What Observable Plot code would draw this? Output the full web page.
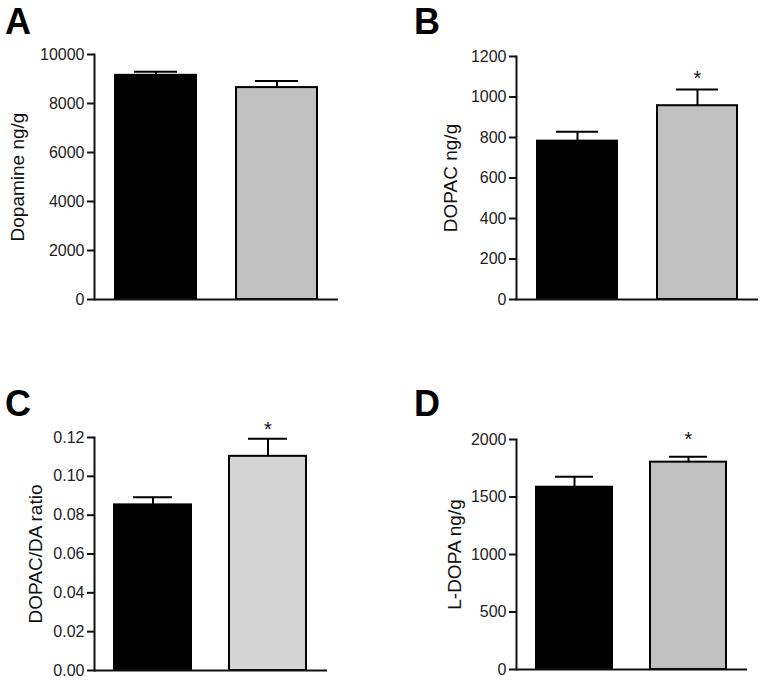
<!DOCTYPE html>
<html>
<head>
<meta charset="utf-8">
<script src="https://cdn.jsdelivr.net/npm/d3@7"></script>
<script src="https://cdn.jsdelivr.net/npm/@observablehq/plot@0.6"></script>
<style>
  body { margin: 0; background: #fff; }
  #wrap { position: relative; width: 765px; height: 680px; overflow: hidden; background: #fff; }
  .panel { position: absolute; }
  .letter { position: absolute; font-family: "Liberation Sans", Arial, sans-serif; font-weight: bold; font-size: 36px; line-height: 1; color: #000; }
</style>
</head>
<body>
<div id="wrap"></div>
<script>
// ---- data ----
const groups = ["Group 1", "Group 2"];

const dopamine = [9150, 8650];
const dopamineErr = [150, 270];
const dopamineSig = [false, false];
const dopamineTicks = [0, 2000, 4000, 6000, 8000, 10000];

const dopac = [782, 957];
const dopacErr = [46, 80];
const dopacSig = [false, true];
const dopacTicks = [0, 200, 400, 600, 800, 1000, 1200];

const ratio = [0.0853, 0.1103];
const ratioErr = [0.0039, 0.009];
const ratioSig = [false, true];
const ratioTicks = [0, 0.02, 0.04, 0.06, 0.08, 0.10, 0.12];

const ldopa = [1585, 1803];
const ldopaErr = [91, 47];
const ldopaSig = [false, true];
const ldopaTicks = [0, 500, 1000, 1500, 2000];

const panelLetters = ["A", "B", "C", "D"];
const yLabels = ["Dopamine ng/g", "DOPAC ng/g", "DOPAC/DA ratio", "L-DOPA ng/g"];

// ---- drawing ----
const wrap = document.getElementById("wrap");
const FONT = "'Liberation Sans', Arial, Helvetica, sans-serif";

function rows(values, errs, sig) {
  return groups.map((g, i) => ({group: g, value: values[i], err: errs[i], sig: sig[i]}));
}

function panel(cfg) {
  const data = rows(cfg.values, cfg.errs, cfg.sig);
  const chart = Plot.plot({
    width: cfg.width,
    height: cfg.height,
    marginTop: cfg.mt,
    marginBottom: cfg.mb,
    marginLeft: cfg.ml,
    marginRight: cfg.mr,
    style: {fontFamily: FONT, fontSize: "16px", color: "#000", background: "transparent", overflow: "visible"},
    x: {domain: groups, paddingInner: 0.33, paddingOuter: 0.17, axis: null},
    y: {domain: [cfg.ticks[0], cfg.ticks[cfg.ticks.length - 1]], axis: null},
    color: {domain: groups, range: ["#000000", cfg.fill2]},
    marks: [
      Plot.barY(data, {x: "group", y: "value", fill: "group", stroke: "#000", strokeWidth: 2}),
      Plot.ruleX(data, {x: "group", y1: "value", y2: d => d.value + d.err, stroke: "#000", strokeWidth: 2}),
      Plot.tickY(data, {x: "group", y: d => d.value + d.err, stroke: "#000", strokeWidth: 2, insetLeft: 19, insetRight: 19}),
      Plot.text(data.filter(d => d.sig), {x: "group", y: d => d.value + d.err, text: () => "*", fontSize: 20, fill: "#111", dy: cfg.starDy}),
      Plot.axisY({ticks: cfg.ticks, tickFormat: cfg.fmt, tickSize: 7, tickPadding: 3, strokeWidth: 2, stroke: "#111", fill: "#222", fontSize: 16, label: null}),
      Plot.frame({anchor: "left", stroke: "#111", strokeWidth: 2}),
      Plot.ruleY([0], {stroke: "#111", strokeWidth: 2}),
      Plot.text([cfg.label], {frameAnchor: "left", textAnchor: "middle", rotate: -90, dx: -cfg.labelOffset, lineAnchor: "top", fontSize: 19, fill: "#111"})
    ]
  });
  const div = document.createElement("div");
  div.className = "panel";
  div.style.left = cfg.left + "px";
  div.style.top = cfg.top + "px";
  div.appendChild(chart);
  wrap.appendChild(div);
}

panel({left: 0, top: 0, width: 380, height: 320, mt: 54, mb: 21, ml: 94, mr: 42,
  values: dopamine, errs: dopamineErr, sig: dopamineSig, ticks: dopamineTicks, fmt: d3.format("d"),
  label: yLabels[0], labelOffset: 84, fill2: "#c0c0c0", starDy: -11});
panel({left: 380, top: 0, width: 385, height: 320, mt: 56, mb: 21, ml: 136, mr: 7,
  values: dopac, errs: dopacErr, sig: dopacSig, ticks: dopacTicks, fmt: d3.format("d"),
  label: yLabels[1], labelOffset: 73, fill2: "#c0c0c0", starDy: -11});
panel({left: 0, top: 330, width: 380, height: 350, mt: 107, mb: 10, ml: 94, mr: 53,
  values: ratio, errs: ratioErr, sig: ratioSig, ticks: ratioTicks, fmt: d3.format(".2f"),
  label: yLabels[2], labelOffset: 66, fill2: "#d4d4d4", starDy: -9});
panel({left: 380, top: 330, width: 385, height: 350, mt: 109, mb: 11, ml: 136, mr: 18,
  values: ldopa, errs: ldopaErr, sig: ldopaSig, ticks: ldopaTicks, fmt: d3.format("d"),
  label: yLabels[3], labelOffset: 69, fill2: "#c0c0c0", starDy: -17});

const letterPos = [[5, 4], [414, 4], [5, 386], [414, 386]];
panelLetters.forEach((t, i) => {
  const el = document.createElement("div");
  el.className = "letter";
  el.textContent = t;
  el.style.left = letterPos[i][0] + "px";
  el.style.top = letterPos[i][1] + "px";
  wrap.appendChild(el);
});
</script>
</body>
</html>
